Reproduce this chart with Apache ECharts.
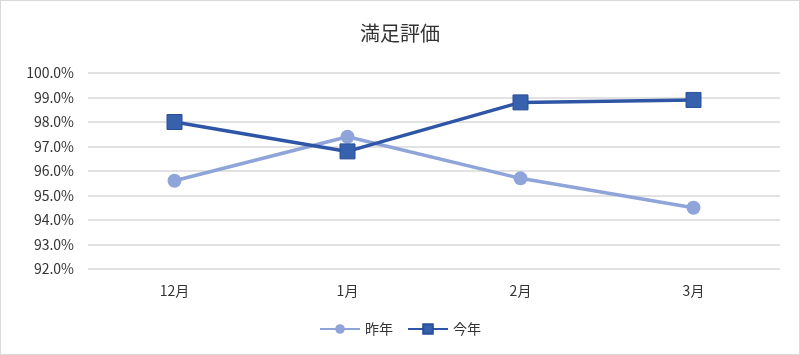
<!DOCTYPE html>
<html lang="ja">
<head>
  <meta charset="UTF-8">
  <title>満足評価</title>
  <script src="https://cdn.jsdelivr.net/npm/echarts@6/dist/echarts.min.js"></script>
  <style>
    html, body {
      margin: 0;
      padding: 0;
      width: 100%;
      height: 100%;
      background: #fff;
    }
    #main {
      position: absolute;
      left: 0;
      top: 0;
      width: 798px;
      height: 353px;
      border: 1px solid #d9d9d9;
    }
  </style>
</head>
<body>
  <div id="main"></div>
  <script>
    const categories = ['12月', '1月', '2月', '3月'];
    const lastYear = [95.6, 97.4, 95.7, 94.5];
    const thisYear = [98.0, 96.8, 98.8, 98.9];
    const seriesNames = ['昨年', '今年'];

    const font = '"Noto Sans CJK JP", "Noto Sans", sans-serif';
    const chart = echarts.init(document.getElementById('main'));

    const option = {
      animation: false,
      title: {
        text: '満足評価',
        left: 'center',
        top: 17,
        textStyle: {
          fontFamily: font,
          fontSize: 20,
          fontWeight: 'normal',
          color: '#333'
        }
      },
      legend: {
        data: seriesNames,
        bottom: 13,
        left: 'center',
        itemWidth: 40,
        itemHeight: 12,
        itemGap: 14,
        textStyle: { fontFamily: font, fontSize: 14, color: '#333' }
      },
      grid: {
        left: 87,
        right: 19,
        top: 72,
        bottom: 85
      },
      xAxis: {
        type: 'category',
        data: categories,
        boundaryGap: true,
        axisLine: { show: false },
        axisTick: { show: false },
        axisLabel: {
          margin: 15,
          fontFamily: font,
          fontSize: 14,
          color: '#333'
        }
      },
      yAxis: {
        type: 'value',
        min: 92,
        max: 100,
        interval: 1,
        axisLine: { show: false },
        axisTick: { show: false },
        splitLine: { lineStyle: { color: '#d9d9d9', width: 1.5 } },
        axisLabel: {
          margin: 14,
          fontFamily: font,
          fontSize: 14,
          color: '#333',
          formatter: v => v.toFixed(1) + '%'
        }
      },
      series: [
        {
          name: seriesNames[0],
          type: 'line',
          data: lastYear,
          symbol: 'circle',
          symbolSize: 14,
          color: '#8FA4D8',
          lineStyle: { width: 3.5, color: '#8FA4D8' },
          itemStyle: { color: '#8FA4D8' }
        },
        {
          name: seriesNames[1],
          type: 'line',
          data: thisYear,
          symbol: 'rect',
          symbolSize: 15,
          color: '#2F56A6',
          lineStyle: { width: 3.5, color: '#2F56A6' },
          itemStyle: { color: '#3760AD', borderColor: '#2A4F9A', borderWidth: 1 }
        }
      ]
    };

    chart.setOption(option);
  </script>
</body>
</html>
